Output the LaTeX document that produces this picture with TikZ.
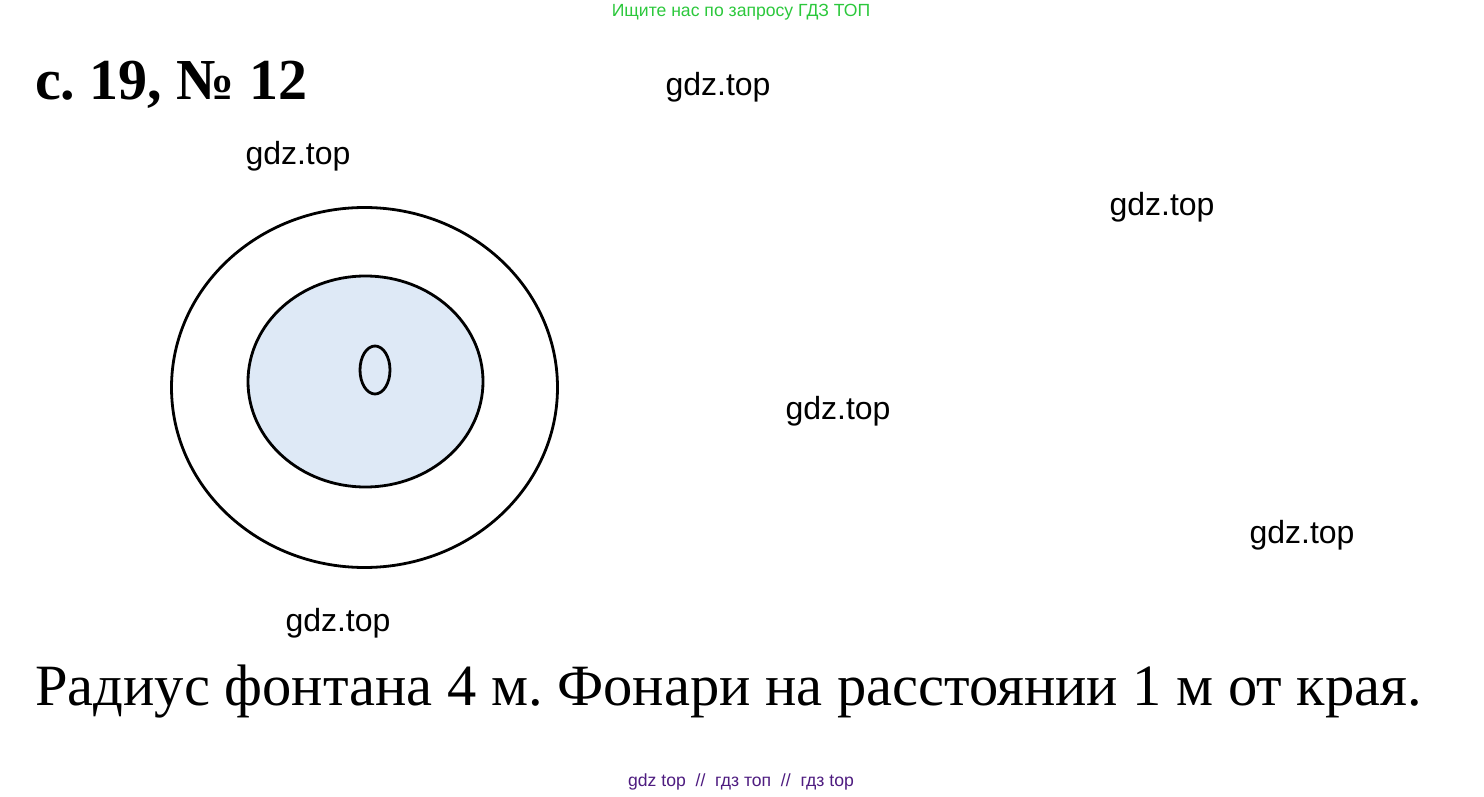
\documentclass[tikz,border=0pt]{standalone}
\usepackage{fontspec}
\setmainfont{Liberation Serif}
\newfontfamily\wmfont{Liberation Sans}
\definecolor{pondblue}{RGB}{222,233,246}
\definecolor{adgreen}{RGB}{44,200,60}
\definecolor{adpurple}{RGB}{78,28,128}
\tikzset{
    rim/.style={line width=2.8pt, draw=black},
    wmark/.style={font=\wmfont\fontsize{32}{34}\selectfont, inner sep=0pt}
}
\frenchspacing
\begin{document}
\begin{tikzpicture}[x=1pt, y=-1pt]
            \useasboundingbox[fill=white] (0,0) rectangle (1484,797);

            % header and footer lines
            \node[font=\wmfont\fontsize{17.6}{19}\selectfont, text=adgreen] (ad) at (741, 12) {Ищите нас по запросу ГДЗ ТОП};
            \node[font=\wmfont\fontsize{17.6}{19}\selectfont, text=adpurple] (links) at (741, 782) {gdz top \ // \ гдз топ \ // \ гдз top};

            \node[anchor=base west, inner sep=0pt, font=\bfseries\fontsize{58}{60}\selectfont] (title) at (35, 100) {с. 19, № 12};

            % watermarks
            \foreach \wx/\wy [count=\i] in {718/87, 298/156, 1162/207, 838/411, 1302/535, 338/623} {
                \node[wmark] (wm\i) at (\wx, \wy) {gdz.top};
            }

            % the fountain
            \draw[rim] (364.5, 387.5) ellipse[x radius=193, y radius=180];
            \draw[rim, fill=pondblue] (365.5, 381.5) ellipse[x radius=117.5, y radius=105.5];
            \draw[rim] (375, 370) ellipse[x radius=15, y radius=24];

            \node[anchor=base west, inner sep=0pt, font=\fontsize{58.5}{60}\selectfont] (note) at (35, 705) {Радиус фонтана 4 м. Фонари на расстоянии 1 м от края.};
        \end{tikzpicture}
\end{document}
